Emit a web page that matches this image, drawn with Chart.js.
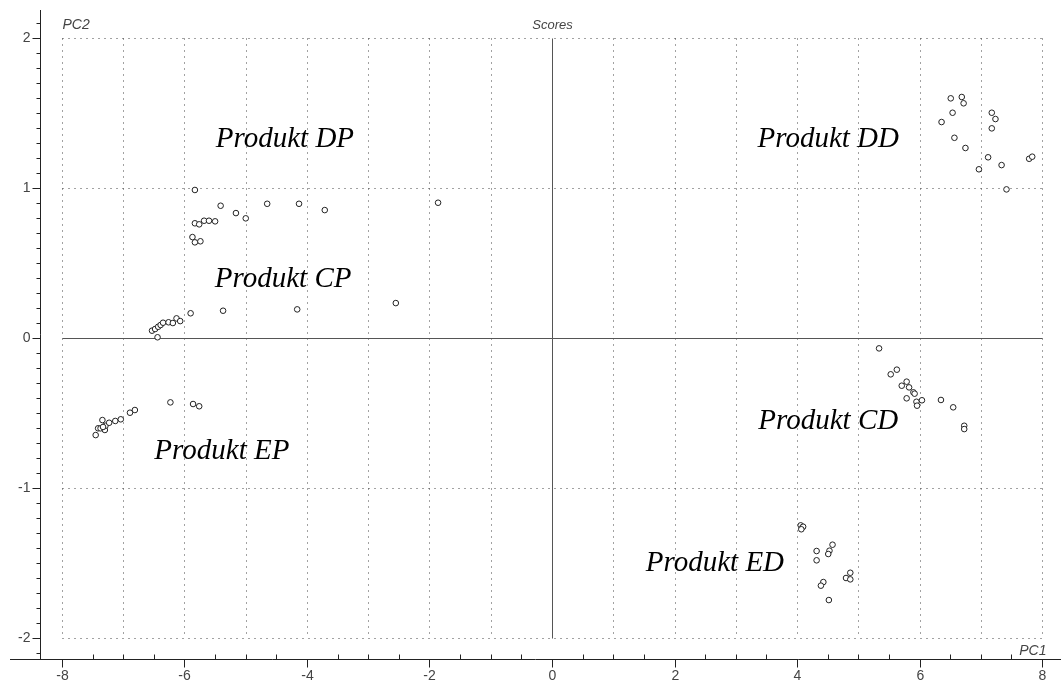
<!DOCTYPE html>
<html>
<head>
<meta charset="utf-8">
<script src="https://cdn.jsdelivr.net/npm/chart.js@4.4.1/dist/chart.umd.min.js"></script>
<style>
  html, body { margin: 0; padding: 0; background: #fff; }
  #wrap { width: 1061px; height: 691px; }
</style>
</head>
<body>
<div id="wrap"><canvas id="scores"></canvas></div>
<script>
// PC1 / PC2 scores per product group
const dpX = [-5.83, -5.41, -5.16, -5.00, -4.65, -4.13, -3.71, -1.86, -5.83, -5.76, -5.68, -5.60, -5.50, -5.87, -5.83, -5.74];
const dpY = [0.987, 0.882, 0.833, 0.798, 0.895, 0.895, 0.853, 0.902, 0.765, 0.758, 0.782, 0.782, 0.778, 0.673, 0.638, 0.645];

const cpX = [-6.44, -6.53, -6.48, -6.43, -6.39, -6.35, -6.26, -6.19, -6.13, -6.07, -5.90, -5.37, -4.16, -2.55];
const cpY = [0.005, 0.049, 0.060, 0.075, 0.087, 0.102, 0.105, 0.100, 0.131, 0.113, 0.165, 0.182, 0.191, 0.233];

const epX = [-7.45, -7.41, -7.37, -7.30, -7.29, -7.34, -7.33, -7.23, -7.13, -7.04, -6.89, -6.81, -6.23, -5.86, -5.76];
const epY = [-0.647, -0.602, -0.602, -0.613, -0.585, -0.547, -0.593, -0.565, -0.553, -0.542, -0.498, -0.480, -0.429, -0.440, -0.455];

const ddX = [6.51, 6.69, 6.72, 6.54, 6.36, 7.18, 7.24, 7.18, 6.57, 6.75, 7.12, 6.97, 7.34, 7.79, 7.84, 7.42];
const ddY = [1.598, 1.607, 1.565, 1.502, 1.440, 1.502, 1.460, 1.398, 1.335, 1.267, 1.205, 1.125, 1.153, 1.195, 1.209, 0.991];

const cdX = [5.34, 5.53, 5.63, 5.71, 5.79, 5.83, 5.90, 5.92, 5.79, 5.95, 5.96, 6.04, 6.35, 6.55, 6.73, 6.73];
const cdY = [-0.069, -0.242, -0.211, -0.318, -0.291, -0.329, -0.362, -0.371, -0.402, -0.425, -0.451, -0.415, -0.413, -0.462, -0.585, -0.607];

const edX = [4.06, 4.09, 4.10, 4.07, 4.58, 4.53, 4.51, 4.32, 4.32, 4.87, 4.80, 4.87, 4.43, 4.39, 4.52];
const edY = [-1.249, -1.262, -1.258, -1.275, -1.378, -1.418, -1.440, -1.420, -1.482, -1.565, -1.600, -1.609, -1.627, -1.651, -1.747];

// group names and where they are written (data units)
const grupy = ['Produkt DP', 'Produkt CP', 'Produkt EP', 'Produkt DD', 'Produkt CD', 'Produkt ED'];
const grupyX = [-4.36, -4.39, -5.39, 4.51, 4.51, 2.66];
const grupyY = [1.273, 0.34, -0.807, 1.273, -0.607, -1.553];

// axis ticks
const ticksX = [-8, -6, -4, -2, 0, 2, 4, 6, 8];
const ticksY = [-2, -1, 0, 1, 2];

function punkty(xs, ys) {
    return xs.map((v, i) => ({ x: v, y: ys[i] }));
}

const serie = [
    punkty(dpX, dpY), punkty(cpX, cpY), punkty(epX, epY),
    punkty(ddX, ddY), punkty(cdX, cdY), punkty(edX, edY)
];

const szary = '#555';
const fontOs = '"Liberation Sans Narrow", "Liberation Sans", Arial, sans-serif';

const osie = {
    id: 'osie',
    beforeDatasetsDraw(chart) {
        const { ctx, scales: { x, y } } = chart;
        const px = v => Math.round(x.getPixelForValue(v)) + 0.5;
        const py = v => Math.round(y.getPixelForValue(v)) + 0.5;
        const lewo = px(-8), prawo = px(8), gora = py(2), dol = py(-2);
        const osX = py(-2.14), osY = px(-8.359);

        ctx.save();
        ctx.lineWidth = 1;

        // dotted grid
        ctx.strokeStyle = '#444';
        ctx.setLineDash([1, 5]);
        ctx.beginPath();
        for (let v = -8; v <= 8; v++) {
            if (v === 0) continue;
            ctx.moveTo(px(v), gora); ctx.lineTo(px(v), dol);
        }
        for (let v = -2; v <= 2; v++) {
            if (v === 0) continue;
            ctx.moveTo(lewo, py(v)); ctx.lineTo(prawo, py(v));
        }
        ctx.stroke();
        ctx.setLineDash([]);

        // zero lines
        ctx.strokeStyle = szary;
        ctx.beginPath();
        ctx.moveTo(lewo, py(0)); ctx.lineTo(prawo, py(0));
        ctx.moveTo(px(0), gora); ctx.lineTo(px(0), dol);
        ctx.stroke();

        // frame axes
        ctx.strokeStyle = '#222';
        ctx.beginPath();
        ctx.moveTo(10, osX); ctx.lineTo(chart.width, osX);
        ctx.moveTo(osY, 10); ctx.lineTo(osY, osX);
        for (let v = -8; v <= 8; v += 0.5) {
            const duzy = ticksX.includes(v);
            ctx.moveTo(px(v), duzy ? osX + 8 : osX);
            ctx.lineTo(px(v), duzy ? osX : osX - 5);
        }
        for (let k = -21; k <= 21; k++) {
            const v = k / 10;
            const duzy = k % 10 === 0;
            ctx.moveTo(osY - (duzy ? 8 : 4), py(v));
            ctx.lineTo(osY, py(v));
        }
        ctx.stroke();

        // tick labels
        ctx.fillStyle = '#444';
        ctx.font = '14px ' + fontOs;
        ctx.textAlign = 'center';
        ctx.textBaseline = 'middle';
        ticksX.forEach(v => ctx.fillText(String(v), px(v), osX + 17));
        ctx.textAlign = 'right';
        ticksY.forEach(v => ctx.fillText(String(v), osY - 10, py(v)));

        // titles
        ctx.font = 'italic 13px ' + fontOs;
        ctx.textAlign = 'center';
        ctx.fillText('Scores', px(0), 25);
        ctx.textAlign = 'left';
        ctx.font = 'italic 14px ' + fontOs;
        ctx.fillText('PC2', lewo, 25);
        ctx.textAlign = 'right';
        ctx.fillText('PC1', prawo + 4, 651);

        // group names
        ctx.fillStyle = '#000';
        ctx.font = 'italic 29px "Liberation Serif", "Times New Roman", serif';
        ctx.textAlign = 'center';
        ctx.textBaseline = 'alphabetic';
        grupy.forEach((t, i) => ctx.fillText(t, x.getPixelForValue(grupyX[i]), y.getPixelForValue(grupyY[i])));

        ctx.restore();
    }
};

new Chart(document.getElementById('scores'), {
    type: 'scatter',
    data: {
        datasets: serie.map((d, i) => ({
            label: grupy[i],
            data: d,
            pointRadius: 2.8,
            pointBorderWidth: 1,
            pointBackgroundColor: '#fff',
            pointBorderColor: '#222'
        }))
    },
    options: {
        responsive: true,
        maintainAspectRatio: false,
        animation: false,
        layout: { autoPadding: false, padding: { left: 40, top: 10, right: 0, bottom: 32 } },
        scales: {
            x: { type: 'linear', min: -8.359, max: 8.31, display: false },
            y: { type: 'linear', min: -2.14, max: 2.187, display: false }
        },
        plugins: {
            legend: { display: false },
            tooltip: { enabled: false }
        }
    },
    plugins: [osie]
});
</script>
</body>
</html>
